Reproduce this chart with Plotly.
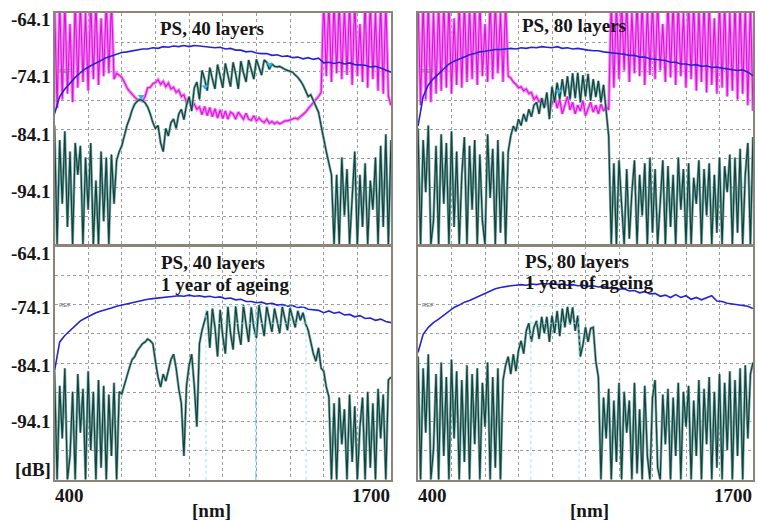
import plotly.graph_objects as go

# ---------------- data ----------------
WL10 = list(range(400, 1701, 10))   # wavelength grid of the measured traces [nm]
WL20 = list(range(400, 1701, 20))   # wavelength grid of the reference (lamp) traces [nm]
X_RANGE = [400, 1700]
Y_RANGE = [-104.1, -64.1]
GRID_X = [530, 660, 790, 920, 1050, 1180, 1310, 1440, 1570]
GRID_Y = [-99.1, -94.1, -89.1, -84.1, -79.1, -74.1, -69.1]
Y_TICK_LABELS = ["-64.1", "-74.1", "-84.1", "-94.1"]
Y_TICK_VALUES = [-64.1, -74.1, -84.1, -94.1]
X_TICK_LABELS = ["400", "1700"]
TITLES = [["PS, 40 layers"], ["PS, 80 layers"],
          ["PS, 40 layers", "1 year of ageing"], ["PS, 80 layers", "1 year of ageing"]]

# panel 1 : PS, 40 layers
p1_sample = [
    -83.5, -104, -86, -97, -84.5, -101, -88, -104, -86.5, -92,
    -87, -104, -89, -98, -86.5, -104, -93, -104, -88, -100,
    -89, -104, -88.5, -97, -89.5, -88, -87, -85, -83.5, -82.3,
    -80.8, -79.8, -79.3, -79.0, -79.2, -79.6, -80.3, -81.5, -83, -84,
    -83.5, -86.5, -88, -84, -85.3, -83, -82.4, -84, -81.5, -80.7,
    -82.5, -80, -78.5, -81, -77, -76, -79, -74, -75.5, -77.5,
    -73.5, -75.5, -77.2, -73.0, -75, -77, -72.8, -74.8, -76.8, -72.6,
    -74.6, -77.2, -72.4, -74.4, -76, -72.2, -74, -75.5, -72.1, -73.5,
    -74.8, -72.2, -72.6, -73.8, -72.9, -73.3, -73.4, -73.3, -73.6, -73.8,
    -74.0, -74.2, -74.3, -74.8, -75.2, -75.8, -76.5, -77.5, -78.5, -78.2,
    -79.2, -80.3, -81.2, -83.5, -86, -88, -90, -92, -104, -92,
    -104, -89, -99, -91, -104, -96, -88, -104, -92, -101,
    -90, -104, -93, -98, -89, -104, -87, -101, -85, -104,
    -86]
p1_second = [
    -62, -80.5, -62, -79, -62, -78, -66, -79.5, -62, -77,
    -62, -76, -64, -77.5, -62, -75.5, -62, -76.5, -65, -75,
    -62, -74.5, -62, -75.5, -74.5, -74.8, -75.2, -76, -77, -77.6,
    -78.2, -78.6, -79, -79.2, -79.3, -78.5, -77, -76.9, -76.3, -76.1,
    -75.6, -76.4, -75.9, -76.8, -76.2, -77.2, -76.9, -77.8, -77.4, -78.5,
    -78.2, -79.5, -79.2, -80.2, -79.8, -80.7, -80.3, -81.6, -80.2, -81.8,
    -80.4, -82, -80.6, -82.2, -80.8, -82.3, -81, -82.4, -81.2, -81.5,
    -82.4, -81.2, -81.8, -82.4, -81.4, -82.4, -82.6, -81.8, -82.7, -82.2,
    -82.7, -83, -82.4, -83.1, -82.8, -83.2, -82.9, -83.2, -83, -82.7,
    -82.7, -82.5, -82.4, -82.2, -82.4, -81.9, -81.6, -81.2, -80.6, -80.1,
    -79.5, -79, -78.5, -77.8, -62, -75, -62, -76, -62, -74.5,
    -62, -75.5, -63, -74.8, -62, -76.5, -62, -75, -66, -76,
    -62, -77, -62, -75.5, -64, -77.5, -62, -78, -62, -78.5,
    -80]
p1_ref = [
    -81.5, -78.5, -77.2, -76.2, -75.2, -74.4, -73.7, -73.2, -72.7, -72.2,
    -71.8, -71.5, -71.2, -70.9, -70.8, -70.6, -70.4, -70.3, -70.3, -70.1,
    -70.2, -69.9, -70.0, -69.8, -69.9, -69.7, -69.9, -69.7, -69.8, -69.9,
    -69.9, -70.1, -70.0, -70.3, -70.2, -70.5, -70.5, -70.8, -70.7, -71.0,
    -71.1, -71.1, -71.4, -71.3, -71.6, -71.5, -71.8, -71.7, -72.0, -71.8,
    -72.1, -71.9, -72.7, -72.6, -72.8, -72.6, -72.9, -72.7, -73.0, -73.1,
    -73.1, -73.4, -73.3, -73.6, -73.9, -74.3]

# panel 2 : PS, 80 layers
p2_sample = [
    -84, -104, -86, -95, -83.5, -104, -100, -87, -104, -85,
    -97, -86.5, -104, -84.5, -101, -88, -104, -92, -85.5, -104,
    -87, -98, -86, -104, -88.5, -100, -104, -85, -96, -87.5,
    -104, -86, -102, -88, -104, -88, -85.3, -83.6, -84.5, -82.4,
    -83.5, -81.5, -82.8, -80.7, -82, -80, -79.5, -81.5, -78.8, -80.5,
    -77.8, -82.4, -76.8, -79.5, -76.1, -79, -75.5, -78.5, -75, -79,
    -74.5, -78.8, -74.4, -79.5, -74.8, -78.5, -74.6, -79.2, -75.5, -78.6,
    -75.8, -79.5, -76.5, -80.7, -85.3, -104, -90, -104, -89.5, -97,
    -104, -91, -103, -95, -89.5, -104, -92, -99, -90, -104,
    -89, -102, -91, -104, -96, -89.5, -104, -90.5, -101, -92,
    -104, -89, -98, -91, -104, -90, -104, -92.5, -97, -89.5,
    -104, -91, -99, -90, -104, -92, -102, -89, -104, -90.5,
    -95, -88.5, -104, -89, -102, -87.5, -104, -92, -86.5, -104,
    -85.5]
p2_second = [
    -62, -80, -62, -79, -62, -79.5, -64, -78, -62, -77.5,
    -62, -77, -62, -78, -65, -76.5, -62, -77, -62, -76,
    -63, -75.5, -62, -76.5, -62, -75, -66, -76, -62, -75.5,
    -62, -74.5, -64, -76, -62, -75, -75.3, -76, -76.4, -77,
    -76.8, -77.5, -77.2, -78, -77.8, -79, -78.5, -79.5, -78.8, -79.8,
    -79.5, -81, -79.8, -78.5, -80.5, -79, -81.5, -80, -78.5, -80.8,
    -79.5, -81.5, -80, -81, -79.2, -81.8, -80.5, -79.5, -81.2, -80,
    -81.5, -79.8, -81, -80.2, -80.8, -62, -77, -62, -75.5, -62,
    -74, -62, -76, -64, -74.5, -62, -75, -62, -76.5, -63,
    -74.8, -62, -75.5, -62, -74, -66, -76, -62, -75.2, -62,
    -76.5, -62, -75, -64, -77, -62, -75.5, -62, -77.5, -63,
    -76, -62, -77.8, -62, -76.5, -65, -78, -62, -77, -62,
    -78.5, -64, -77.5, -62, -79, -62, -78, -63, -80, -62,
    -81]
p2_ref = [
    -83.6, -78.5, -76.5, -75.4, -74.6, -73.8, -72.9, -72.4, -72.0, -71.6,
    -71.3, -71.1, -70.8, -70.7, -70.5, -70.4, -70.4, -70.3, -70.2, -70.3,
    -70.1, -70.2, -70.0, -70.1, -69.9, -70.0, -70.1, -69.9, -70.2, -70.1,
    -70.3, -70.2, -70.4, -70.5, -70.6, -70.6, -70.8, -70.9, -70.9, -71.1,
    -71.2, -71.4, -71.4, -71.7, -71.7, -72.0, -72.1, -72.3, -72.3, -72.6,
    -72.6, -72.9, -72.9, -73.1, -73.0, -73.3, -73.2, -73.5, -73.4, -73.6,
    -73.7, -73.8, -74.0, -73.9, -74.3, -74.9]

# panel 3 : PS, 40 layers, 1 year of ageing
p3_sample = [
    -85.5, -104, -88, -97, -85, -104, -100, -89, -104, -86,
    -96, -88.5, -104, -85.5, -99, -89, -104, -87, -102, -88,
    -104, -89.5, -100, -87.5, -104, -89, -89.4, -87.7, -86, -84.8,
    -83.5, -83, -82, -81.3, -80.8, -80.5, -80, -80.3, -80.8, -83.8,
    -86.5, -88.2, -86, -87.2, -85.5, -83.5, -82.6, -85, -88.5, -91,
    -100, -88, -84.5, -82.6, -88, -95, -80.8, -78.5, -76.9, -75.2,
    -81.5, -74.8, -78, -83, -75, -79.5, -82.5, -74.5, -79, -81.8,
    -74.4, -78.5, -81, -74.2, -77.5, -80.5, -74.6, -78, -79.8, -74.2,
    -77, -79.5, -74.4, -76.5, -78.8, -74.8, -77.2, -79, -74.5, -76.8,
    -78.5, -74.7, -76.5, -78, -75.2, -76.8, -75.5, -77.4, -78.5, -80.8,
    -82.5, -83.8, -81.5, -85, -85.5, -88.2, -89.9, -104, -91, -104,
    -90, -98, -92, -104, -89.5, -101, -91.5, -104, -95, -90,
    -104, -89, -102, -91, -104, -88.5, -97, -89.5, -104, -87,
    -86.5]
p3_ref = [
    -85.5, -80.5, -79.4, -78.6, -77.7, -76.9, -76.4, -75.9, -75.5, -75.2,
    -75.0, -74.7, -74.4, -74.2, -73.9, -73.7, -73.5, -73.4, -73.2, -73.1,
    -73.0, -72.9, -72.8, -72.8, -72.6, -72.7, -72.5, -72.7, -72.6, -72.8,
    -72.7, -72.9, -72.8, -73.1, -73.0, -73.3, -73.2, -73.6, -73.6, -73.8,
    -73.7, -74.0, -73.9, -74.2, -74.1, -74.4, -74.3, -74.6, -74.5, -74.9,
    -75.0, -75.1, -75.5, -75.2, -75.6, -75.4, -75.9, -75.8, -76.2, -76.0,
    -76.5, -76.4, -76.8, -76.6, -77.0, -77.2]

# panel 4 : PS, 80 layers, 1 year of ageing
p4_sample = [
    -83, -104, -85, -96, -82.6, -104, -99, -86, -104, -84,
    -100, -86.5, -104, -83.5, -97, -85.5, -104, -87, -101, -84.5,
    -104, -86, -98, -85, -104, -87.5, -95, -84, -104, -86.5,
    -102, -85, -104, -87, -84.5, -83, -86, -82.6, -85.5, -82,
    -80.3, -82.5, -78.6, -77.3, -80.5, -78, -76.9, -80, -76.2, -79,
    -76.2, -80.5, -76, -79, -75.2, -79.5, -74.8, -78, -74.5, -77.5,
    -74.6, -78.6, -76, -83, -81, -78, -80.5, -78.2, -78, -83.8,
    -86.5, -104, -90, -97, -88.5, -104, -90.5, -101, -87.5, -104,
    -89, -96, -90.5, -104, -87.5, -103, -92, -104, -88, -100,
    -104, -90, -87, -102, -104, -89.5, -98, -88.5, -104, -90,
    -100, -87.5, -104, -89, -95, -88, -104, -90.5, -100, -87,
    -104, -88.5, -98, -86.5, -104, -89, -102, -86, -104, -87.5,
    -99, -85.5, -104, -87, -100, -85, -104, -84.5, -97, -86,
    -84]
p4_ref = [
    -82.3, -79.2, -78.0, -77.2, -76.6, -75.9, -75.2, -74.6, -74.2, -73.7,
    -73.4, -73.0, -72.5, -72.2, -71.8, -71.4, -71.2, -71.0, -70.9, -70.8,
    -70.7, -70.8, -70.6, -70.7, -70.5, -70.6, -70.5, -70.7, -70.6, -70.8,
    -70.7, -70.9, -70.8, -71.0, -70.9, -71.1, -71.0, -71.3, -71.2, -71.5,
    -71.4, -71.8, -71.7, -72.1, -71.9, -72.3, -72.2, -72.7, -72.5, -72.9,
    -72.4, -72.9, -72.6, -73.2, -72.9, -73.3, -73.0, -72.6, -73.5, -73.6,
    -73.9, -74.0, -74.1, -74.3, -74.4, -74.8]

# cursor markers (wavelength, level) per panel
CURSOR_WL = [[735, 982, 1232], [947], [], []]
CURSOR_DB = [[-78.5, -76.8, -73.0], [-77.6], [], []]
# analyser marker windows: [x0, x1, x_mid or None, top level, lower level, lower-line start]
MARKER_WINDOWS = [None, None, [985, 1372, 1178, -74.4, -77.3, 1030], [838, 1025, None, -74.4, -77.3, 838]]

for name, arr, n in [("p1_sample", p1_sample, len(WL10)), ("p1_second", p1_second, len(WL10)),
                     ("p1_ref", p1_ref, len(WL20)), ("p2_sample", p2_sample, len(WL10)),
                     ("p2_second", p2_second, len(WL10)), ("p2_ref", p2_ref, len(WL20)),
                     ("p3_sample", p3_sample, len(WL10)), ("p3_ref", p3_ref, len(WL20)),
                     ("p4_sample", p4_sample, len(WL10)), ("p4_ref", p4_ref, len(WL20))]:
    if len(arr) != n:
        raise SystemExit(f"{name}: {len(arr)} != {n}")

# ---------------- figure ----------------
W, H = 758, 522
BLUE = "#2424d4"
MAG_LIGHT, MAG = "#e88ee8", "#ea08ea"
TEAL_LIGHT, TEAL = "#88aaa8", "#0b4641"
FRAME = "#8c8478"
FONT = "Liberation Serif, Times New Roman, serif"
TXT = "#161616"

XL = [54.5 / W, 391 / W]
XR = [418 / W, 753 / W]
YT = [1 - 245 / H, 1 - 13 / H]
YB = [1 - 480 / H, 1 - 246 / H]
panels = [(XL, YT), (XR, YT), (XL, YB), (XR, YB)]
samples = [p1_sample, p2_sample, p3_sample, p4_sample]
seconds = [p1_second, p2_second, None, None]
refs = [p1_ref, p2_ref, p3_ref, p4_ref]

fig = go.Figure()
layout = dict(width=W, height=H, margin=dict(l=0, r=0, t=0, b=0),
              paper_bgcolor="white", plot_bgcolor="white", showlegend=False)
annotations = []
shapes = []

for i, (xd, yd) in enumerate(panels):
    k = "" if i == 0 else str(i + 1)
    xa, ya = "x" + k, "y" + k
    axis_common = dict(showgrid=True, gridcolor="#9c9c9c", griddash="dot", gridwidth=1,
                       showticklabels=False, ticks="", zeroline=False, showline=True,
                       mirror=True, linecolor=FRAME, linewidth=1.5, fixedrange=True)
    layout["xaxis" + k] = dict(domain=xd, range=X_RANGE, anchor=ya, tickvals=GRID_X, **axis_common)
    layout["yaxis" + k] = dict(domain=yd, range=Y_RANGE, anchor=xa, tickvals=GRID_Y, **axis_common)

    if seconds[i] is not None:
        fig.add_trace(go.Scatter(x=WL10, y=seconds[i], mode="lines", xaxis=xa, yaxis=ya,
                                 line=dict(color=MAG_LIGHT, width=3.2), hoverinfo="skip"))
        fig.add_trace(go.Scatter(x=WL10, y=seconds[i], mode="lines", xaxis=xa, yaxis=ya,
                                 line=dict(color=MAG, width=1.1), hoverinfo="skip"))
    fig.add_trace(go.Scatter(x=WL10, y=samples[i], mode="lines", xaxis=xa, yaxis=ya,
                             line=dict(color=TEAL_LIGHT, width=2.6), hoverinfo="skip"))
    fig.add_trace(go.Scatter(x=WL10, y=samples[i], mode="lines", xaxis=xa, yaxis=ya,
                             line=dict(color=TEAL, width=1.2), hoverinfo="skip"))
    fig.add_trace(go.Scatter(x=WL20, y=refs[i], mode="lines", xaxis=xa, yaxis=ya,
                             line=dict(color=BLUE, width=1.6), hoverinfo="skip"))
    if CURSOR_WL[i]:
        fig.add_trace(go.Scatter(x=CURSOR_WL[i], y=CURSOR_DB[i], mode="markers", xaxis=xa, yaxis=ya,
                                 marker=dict(symbol="triangle-down", size=6, color="#2ab8f0"),
                                 hoverinfo="skip"))

    mw = MARKER_WINDOWS[i]
    if mw:
        x0, x1, xm, ytop, ylow, xlow0 = mw
        for xv in (x0, x1):
            shapes.append(dict(type="line", xref=xa, yref=ya, x0=xv, x1=xv, y0=Y_RANGE[0], y1=ytop,
                               line=dict(color="#9fe3f0", width=1, dash="dot")))
        shapes.append(dict(type="line", xref=xa, yref=ya, x0=x0, x1=x1, y0=ytop, y1=ytop,
                           line=dict(color="#9fe3f0", width=1, dash="dot")))
        shapes.append(dict(type="line", xref=xa, yref=ya, x0=xlow0, x1=x1, y0=ylow, y1=ylow,
                           line=dict(color="#9fe3f0", width=1, dash="dot")))
        if xm is not None:
            shapes.append(dict(type="line", xref=xa, yref=ya, x0=xm, x1=xm, y0=Y_RANGE[0], y1=ytop,
                               line=dict(color="#5cc4e0", width=1, dash="dashdot")))

    # REF tag
    annotations.append(dict(text="REF", xref=xa, yref=ya, x=400, y=-74.1, xanchor="left",
                            yanchor="middle", xshift=2, showarrow=False,
                            font=dict(family="Arial", size=6, color="#806a80")))
    # titles
    tx = [800, 796, 804, 807][i]
    tys = [[-66.7], [-66.2], [-67.0, -70.6], [-66.8, -70.4]][i]
    for line, ty in zip(TITLES[i], tys):
        annotations.append(dict(text="<b>" + line + "</b>", xref=xa, yref=ya, x=tx, y=ty,
                                xanchor="left", yanchor="middle", showarrow=False,
                                font=dict(family=FONT, size=19, color=TXT)))

# y tick labels on left panels
for ya, shifts in (("y", [-7, -5, -5, -4]), ("y3", [-7, -3, -2, 0])):
    for lab, val, sh in zip(Y_TICK_LABELS, Y_TICK_VALUES, shifts):
        annotations.append(dict(text="<b>" + lab + "</b>", xref="paper", yref=ya, x=53 / W, y=val,
                                xanchor="right", yanchor="middle", yshift=sh, showarrow=False,
                                font=dict(family=FONT, size=19, color=TXT)))
annotations.append(dict(text="<b>[dB]</b>", xref="paper", yref="y3", x=53 / W, y=-102.3,
                        xanchor="right", yanchor="middle", showarrow=False,
                        font=dict(family=FONT, size=19, color=TXT)))

# x labels under bottom panels
for xa, nm_x in (("x3", 1005), ("x4", 1064)):
    annotations.append(dict(text="<b>" + X_TICK_LABELS[0] + "</b>", xref=xa, yref="paper", x=X_RANGE[0],
                            y=1 - 495 / H, xanchor="left", yanchor="middle", xshift=-2, showarrow=False,
                            font=dict(family=FONT, size=19, color=TXT)))
    annotations.append(dict(text="<b>" + X_TICK_LABELS[1] + "</b>", xref=xa, yref="paper", x=X_RANGE[1],
                            y=1 - 495 / H, xanchor="right", yanchor="middle", xshift=1, showarrow=False,
                            font=dict(family=FONT, size=19, color=TXT)))
    annotations.append(dict(text="<b>[nm]</b>", xref=xa, yref="paper", x=nm_x, y=1 - 510 / H,
                            xanchor="center", yanchor="middle", showarrow=False,
                            font=dict(family=FONT, size=19, color=TXT)))

layout["annotations"] = annotations
layout["shapes"] = shapes
fig.update_layout(**layout)
fig.write_html("out.html")
